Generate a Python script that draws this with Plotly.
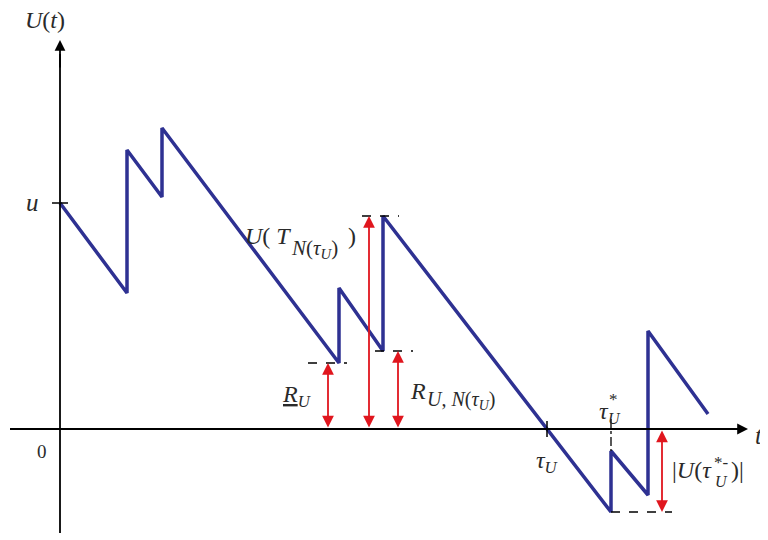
import plotly.graph_objects as go

# risk process path U(t): jump times and levels (before/after each claim/jump)
path_t = [0, 6.7, 6.7, 10.2, 10.2, 27.9, 27.9, 32.3, 32.3, 55.1, 55.1, 58.8, 58.8, 64.8]
path_u = [22.6, 13.6, 27.9, 23.2, 30.1, 6.6, 14.1, 7.8, 21.3, -8.3, -2.2, -6.6, 9.8, 1.5]

u0 = 22.6
tau_u = 48.7
tau_star = 55.1

# dashed reference levels: level, t start, t end
dash_level = [6.6, 7.8, 21.3, -8.3]
dash_t0 = [24.8, 31.5, 30.2, 55.1]
dash_t1 = [28.7, 35.3, 33.9, 61.2]

# red double arrows: position and height
arrow_t = [26.8, 30.9, 33.8, 60.2]
arrow_u = [6.6, 21.3, 7.8, -8.3]

BLUE = "#2e3192"
RED = "#e0161e"
INK = "#2a2a2a"
SERIF = "Liberation Serif, Times New Roman, DejaVu Serif, serif"

fig = go.Figure()
fig.add_trace(go.Scatter(x=path_t, y=path_u, mode="lines",
                         line=dict(color=BLUE, width=3.5), hoverinfo="skip"))

shapes = []
# axes
shapes.append(dict(type="line", x0=0, x1=0, y0=-10.4, y1=37.5, line=dict(color="black", width=1.8)))
shapes.append(dict(type="line", x0=-5, x1=67.5, y0=0, y1=0, line=dict(color="black", width=1.8)))
# ticks
shapes.append(dict(type="line", x0=-0.8, x1=0.8, y0=u0, y1=u0, line=dict(color="black", width=1.5)))
shapes.append(dict(type="line", x0=tau_u, x1=tau_u, y0=-0.8, y1=0.8, line=dict(color="black", width=1.5)))
shapes.append(dict(type="line", x0=tau_star, x1=tau_star, y0=1.0, y1=-2.2,
                   line=dict(color="black", width=1.3, dash="dashdot")))
for lv, a, b in zip(dash_level, dash_t0, dash_t1):
    shapes.append(dict(type="line", x0=a, x1=b, y0=lv, y1=lv,
                       line=dict(color="black", width=1.3, dash="dash")))

annotations = []
# axis arrowheads
annotations.append(dict(x=0, y=38.9, ax=0, ay=36, axref="x", ayref="y", xref="x", yref="y",
                        text="", showarrow=True, arrowhead=2, arrowsize=1.2, arrowwidth=1.8,
                        arrowcolor="black"))
annotations.append(dict(x=68.8, y=0, ax=66, ay=0, axref="x", ayref="y", xref="x", yref="y",
                        text="", showarrow=True, arrowhead=2, arrowsize=1.2, arrowwidth=1.8,
                        arrowcolor="black"))
# red double arrows
for at, au in zip(arrow_t, arrow_u):
    annotations.append(dict(x=at, y=au, ax=at, ay=0, axref="x", ayref="y", xref="x", yref="y",
                            text="", showarrow=True, arrowhead=2, startarrowhead=2,
                            arrowside="end+start", arrowsize=1.3, startarrowsize=1.3,
                            arrowwidth=1.8, arrowcolor=RED))

# (t, U, text, size, anchor) -- scripts are split into their own texts so they can be larger
labels = [
    (-1.5, 40.9, "<i>U</i>(<i>t</i>)", 24, "center"),
    (-2.8, 22.7, "<i>u</i>", 25, "center"),
    (-1.8, -2.2, "0", 19, "center"),
    (69.9, -0.6, "<i>t</i>", 25, "center"),
    # U(T_{N(tau_U)})
    (23.3, 19.3, "<i>U</i>( <i>T</i>", 24, "right"),
    (22.9, 18.0, "<i>N</i>(<i>τ</i><sub><i>U</i></sub>)", 21, "left"),
    (28.6, 19.3, ")", 24, "left"),
    # underline R_U
    (23.7, 3.3, "<u><i>R</i></u><sub><i>U</i></sub>", 24, "center"),
    # R_{U, N(tau_U)}
    (36.8, 3.8, "<i>R</i>", 24, "right"),
    (36.5, 2.9, "<i>U</i>, <i>N</i>(<i>τ</i><sub><i>U</i></sub>)", 20, "left"),
    # tau_U
    (48.7, -3.3, "<i>τ</i><sub><i>U</i></sub>", 24, "center"),
    # tau*_U
    (54.4, 1.8, "<i>τ</i>", 24, "center"),
    (55.3, 3.0, "*", 17, "center"),
    (55.4, 1.1, "<i>U</i>", 16, "center"),
    # |U(tau*-_U)|
    (65.4, -4.1, "|<i>U</i>(<i>τ</i>", 24, "right"),
    (66.1, -3.3, "*-", 17, "center"),
    (66.1, -5.2, "<i>U</i>", 16, "center"),
    (66.9, -4.1, ")|", 24, "left"),
]
for lx, ly, txt, sz, anc in labels:
    annotations.append(dict(x=lx, y=ly, xref="x", yref="y", text=txt, showarrow=False,
                            xanchor=anc, font=dict(family=SERIF, size=sz, color=INK)))

# the page body has an 8px margin, so the figure covers pixels 8..768 / 8..540
fig.update_layout(
    width=760, height=532,
    margin=dict(l=0, r=0, t=0, b=0),
    paper_bgcolor="white", plot_bgcolor="white",
    showlegend=False,
    xaxis=dict(range=[-5.2, 70.8], visible=False, fixedrange=True),
    yaxis=dict(range=[-11.1, 42.1], visible=False, fixedrange=True),
    shapes=shapes,
    annotations=annotations,
)

fig.write_html("out.html")
